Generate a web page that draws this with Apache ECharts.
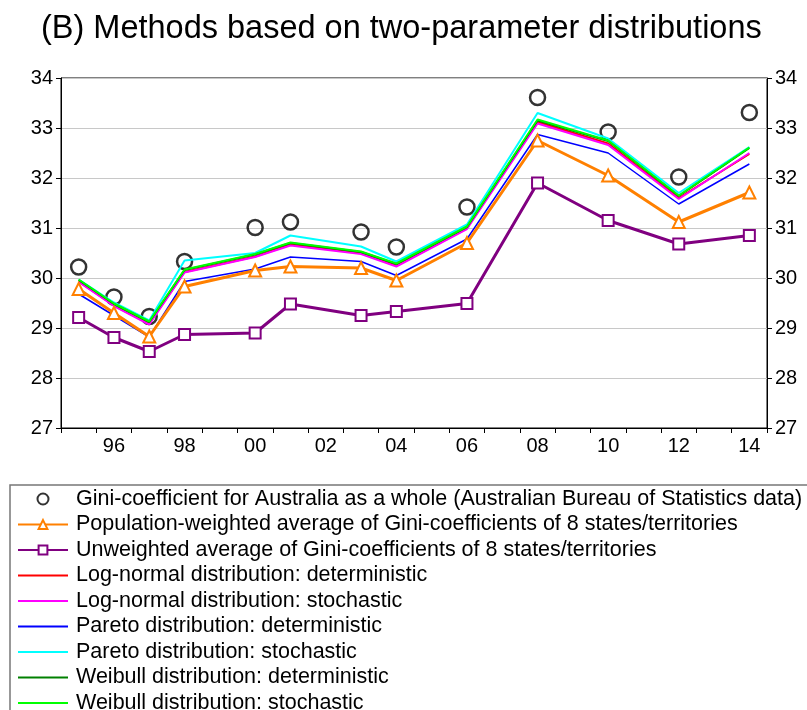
<!DOCTYPE html>
<html>
<head>
<meta charset="utf-8">
<script src="https://cdn.jsdelivr.net/npm/echarts@6/dist/echarts.min.js"></script>
<style>
  html, body { margin: 0; padding: 0; background: #fff; }
  #chart { width: 807px; height: 710px; }
</style>
</head>
<body>
<div id="chart"></div>
<script>
// years 1995..2014, '-' where there is no observation
var years = ['1995','1996','1997','1998','1999','2000','2001','2002','2003','2004',
             '2005','2006','2007','2008','2009','2010','2011','2012','2013','2014']

var absGini      = [30.22, 29.62, 29.23, 30.33, '-', 31.01, 31.12, '-', 30.92, 30.62, '-', 31.42, '-', 33.61, '-', 32.92, '-', 32.02, '-', 33.31]
var popWeighted  = [29.78, 29.30, 28.83, 29.83, '-', 30.15, 30.23, '-', 30.20, 29.95, '-', 30.70, '-', 32.75, '-', 32.05, '-', 31.12, '-', 31.71]
var unweighted   = [29.21, 28.81, 28.53, 28.87, '-', 28.90, 29.48, '-', 29.25, 29.33, '-', 29.49, '-', 31.90, '-', 31.15, '-', 30.68, '-', 30.85]
var logNormDet   = [29.93, 29.45, 29.09, 30.12, '-', 30.43, 30.67, '-', 30.50, 30.25, '-', 31.00, '-', 33.12, '-', 32.69, '-', 31.60, '-', 32.48]
var logNormSto   = [29.92, 29.44, 29.07, 30.11, '-', 30.42, 30.65, '-', 30.48, 30.23, '-', 30.98, '-', 33.09, '-', 32.66, '-', 31.58, '-', 32.50]
var paretoDet    = [29.68, 29.25, 28.82, 29.93, '-', 30.18, 30.42, '-', 30.33, 30.05, '-', 30.78, '-', 32.87, '-', 32.50, '-', 31.48, '-', 32.28]
var paretoSto    = [29.97, 29.51, 29.15, 30.35, '-', 30.50, 30.85, '-', 30.63, 30.33, '-', 31.07, '-', 33.30, '-', 32.79, '-', 31.70, '-', 32.62]
var weibullDet   = [29.96, 29.48, 29.12, 30.16, '-', 30.47, 30.70, '-', 30.52, 30.28, '-', 31.02, '-', 33.15, '-', 32.74, '-', 31.64, '-', 32.60]
var weibullSto   = [29.97, 29.49, 29.13, 30.17, '-', 30.48, 30.71, '-', 30.53, 30.29, '-', 31.03, '-', 33.17, '-', 32.75, '-', 31.65, '-', 32.61]

var yTicks = { min: 27, max: 34, step: 1 }

var font = 'Liberation Sans, Arial, sans-serif'

var chart = echarts.init(document.getElementById('chart'))

function plainLine(name, data, color, width) {
  return {
    name: name,
    type: 'line',
    data: data,
    connectNulls: true,
    showSymbol: false,
    symbol: 'none',
    lineStyle: { color: color, width: width },
    itemStyle: { color: color }
  }
}

// legend entry for a plain line: hide the symbol, keep the line
function lineOnly(name) {
  return { name: name, itemStyle: { opacity: 0 } }
}

var yAxisBase = {
  type: 'value',
  min: yTicks.min,
  max: yTicks.max,
  interval: yTicks.step,
  axisLine: { show: true, lineStyle: { color: '#000', width: 1 } },
  axisTick: { show: true, length: 5, lineStyle: { color: '#000' } },
  axisLabel: { color: '#000', fontSize: 20, fontFamily: font, margin: 8 },
  splitLine: { show: true, lineStyle: { color: '#c8c8c8', width: 1 } }
}

var option = {
  backgroundColor: '#fff',
  animation: false,
  title: {
    text: '(B) Methods based on two-parameter distributions',
    left: 36,
    top: 8,
    textStyle: { fontSize: 32.5, fontWeight: 'normal', color: '#000', fontFamily: font }
  },
  grid: {
    left: 61,
    right: 40,
    top: 78,
    bottom: 282,
    show: true,
    borderColor: '#000',
    borderWidth: 1
  },
  legend: {
    orient: 'vertical',
    left: 10,
    top: 485,
    height: 300,
    padding: [3, 30, 10, 7],
    itemGap: 3.5,
    itemWidth: 50,
    itemHeight: 11,
    borderColor: '#777',
    borderWidth: 1.5,
    textStyle: { fontSize: 21.5, color: '#000', fontFamily: font, padding: [0, 0, 0, 3] },
    data: [
      'Gini-coefficient for Australia as a whole (Australian Bureau of Statistics data)',
      'Population-weighted average of Gini-coefficients of 8 states/territories',
      'Unweighted average of Gini-coefficients of 8 states/territories',
      lineOnly('Log-normal distribution: deterministic'),
      lineOnly('Log-normal distribution: stochastic'),
      lineOnly('Pareto distribution: deterministic'),
      lineOnly('Pareto distribution: stochastic'),
      lineOnly('Weibull distribution: deterministic'),
      lineOnly('Weibull distribution: stochastic')
    ]
  },
  xAxis: {
    type: 'category',
    data: years,
    boundaryGap: true,
    axisLine: { show: true, lineStyle: { color: '#000', width: 1 } },
    axisTick: { show: true, interval: 0, alignWithLabel: false, length: 5, lineStyle: { color: '#000' } },
    axisLabel: {
      color: '#000',
      fontSize: 20,
      fontFamily: font,
      margin: 8,
      interval: function (idx) { return idx % 2 === 1 },
      formatter: function (v) { return v.slice(2) }
    },
    splitLine: { show: false }
  },
  yAxis: [
    Object.assign({}, yAxisBase, { position: 'left' }),
    Object.assign({}, yAxisBase, { position: 'right', splitLine: { show: false } })
  ],
  series: [
    plainLine('Pareto distribution: deterministic', paretoDet, '#0000ff', 1.5),
    plainLine('Pareto distribution: stochastic', paretoSto, '#00ffff', 2),
    plainLine('Log-normal distribution: deterministic', logNormDet, '#ff0000', 2),
    plainLine('Log-normal distribution: stochastic', logNormSto, '#ff00ff', 2),
    plainLine('Weibull distribution: deterministic', weibullDet, '#008000', 2),
    plainLine('Weibull distribution: stochastic', weibullSto, '#00ff00', 2),
    {
      name: 'Population-weighted average of Gini-coefficients of 8 states/territories',
      type: 'line',
      data: popWeighted,
      connectNulls: true,
      symbol: 'triangle',
      symbolSize: 12,
      lineStyle: { color: '#ff8000', width: 3 },
      itemStyle: { color: '#fff', borderColor: '#ff8000', borderWidth: 2 }
    },
    {
      name: 'Unweighted average of Gini-coefficients of 8 states/territories',
      type: 'line',
      data: unweighted,
      connectNulls: true,
      symbol: 'rect',
      symbolSize: 11,
      lineStyle: { color: '#800080', width: 3 },
      itemStyle: { color: '#fff', borderColor: '#800080', borderWidth: 2 }
    },
    {
      name: 'Gini-coefficient for Australia as a whole (Australian Bureau of Statistics data)',
      type: 'scatter',
      data: absGini,
      symbol: 'circle',
      symbolSize: 15,
      itemStyle: { color: 'rgba(255,255,255,0)', borderColor: '#000', borderWidth: 2.5 }
    }
  ]
}

chart.setOption(option)
</script>
</body>
</html>
